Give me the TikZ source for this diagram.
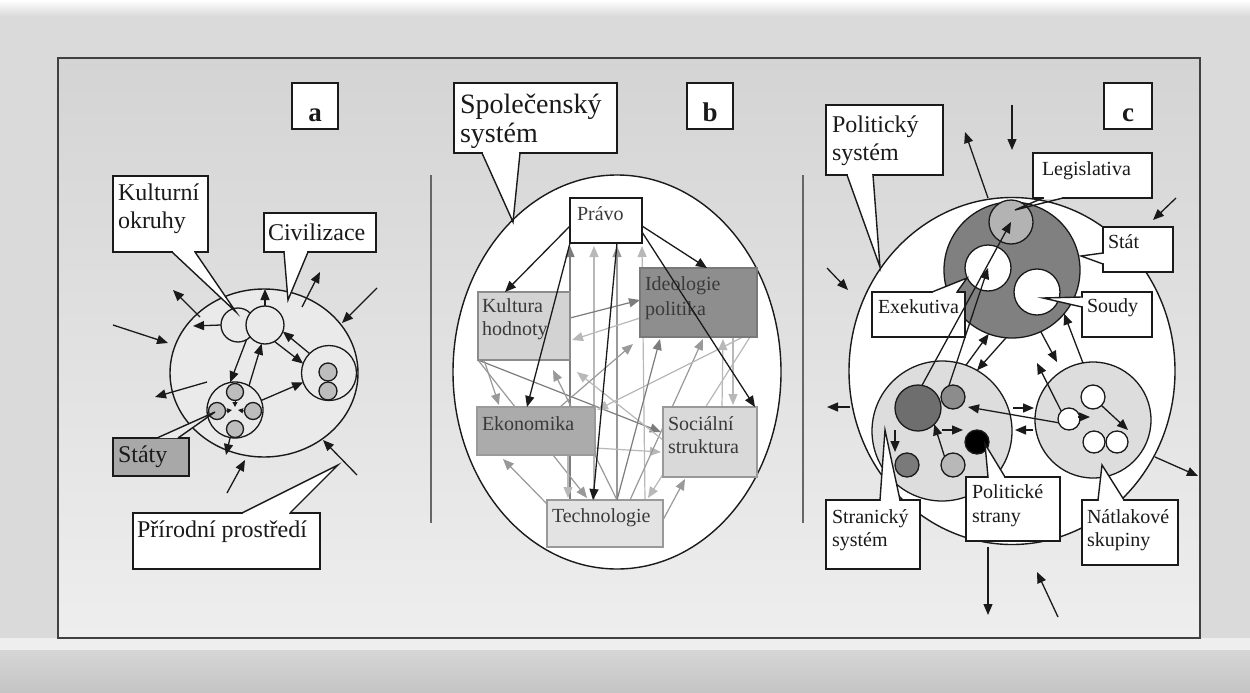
\documentclass[tikz,border=0pt]{standalone}
\usepackage{fontspec}
\setmainfont{Liberation Serif}
\usetikzlibrary{arrows.meta,shapes.geometric,calc}
\definecolor{bgc}{HTML}{DADADA}
\definecolor{frT}{HTML}{D4D4D4}
\definecolor{frB}{HTML}{EEEEEE}
\definecolor{botA}{HTML}{D6D6D6}
\definecolor{botB}{HTML}{C4C4C4}
\definecolor{ink}{HTML}{1A1A1A}
\definecolor{ink2}{HTML}{3A3A3A}
\definecolor{ea}{HTML}{EAEAEA}
\definecolor{sg}{HTML}{BDBDBD}
\definecolor{stg}{HTML}{A8A8A8}
\definecolor{ideoc}{HTML}{8E8E8E}
\definecolor{kultc}{HTML}{D3D3D3}
\definecolor{ekonc}{HTML}{ABABAB}
\definecolor{socc}{HTML}{D9D9D9}
\definecolor{techc}{HTML}{E3E3E3}
\definecolor{statc}{HTML}{808080}
\definecolor{legc}{HTML}{B3B3B3}
\definecolor{strc}{HTML}{DDDDDD}
\definecolor{gA}{HTML}{7C7C7C}
\definecolor{gB}{HTML}{999999}
\definecolor{gC}{HTML}{B8B8B8}
\newcommand{\mkbox}[6][]{\node[box,#1,anchor=north west,minimum width={(#4-#2)*1pt},minimum height={(#5-#3)*1pt}] (#6) at (#2,#3) {};}
\newcommand{\pointer}[4][white]{%
  \fill[#1] (#2) -- (#3) -- (#4) -- cycle;
  \draw[#1,line width=2.4pt,shorten <=0.9pt,shorten >=0.9pt] (#2) -- (#4);
  \draw[ptr] (#2) -- (#3) -- (#4);}
\begin{document}
\begin{tikzpicture}[x=1pt,y=-1pt,
  every node/.style={inner sep=0pt,outer sep=0pt},
  box/.style={rectangle,draw=ink,line width=1.4pt,fill=white},
  circ/.style={circle,draw=ink,line width=1.3pt},
  ell/.style={ellipse,draw=ink,line width=1.4pt},
  arr/.style={draw=ink,line width=1.3pt,-{Triangle[length=11pt,width=9pt]}},
  sarr/.style={draw=ink,line width=1pt,-{Triangle[length=5pt,width=5pt]}},
  garr/.style={line width=1.2pt,-{Triangle[length=11pt,width=9pt]}},
  t24/.style={font=\fontsize{24}{28}\selectfont,text=ink,anchor=base west},
  t20/.style={font=\fontsize{20}{24}\selectfont,text=ink,anchor=base west},
  tg20/.style={font=\fontsize{20}{24}\selectfont,text=ink2,anchor=base west},
  t28/.style={font=\fontsize{28}{32}\selectfont,text=ink,anchor=base west},
  tb/.style={font=\fontsize{27}{30}\selectfont\bfseries,text=ink,anchor=base},
  divider/.style={line width=2.6pt,draw=black!60},
  ptr/.style={draw=ink,line width=1.4pt,line join=miter},
]
\useasboundingbox (0,0) rectangle (1250,693);
% background
\fill[bgc] (0,0) rectangle (1250,693);
\shade[top color=white,bottom color=bgc] (0,0) rectangle (1250,16);
\fill[frB] (0,638) rectangle (1250,650);
\shade[top color=botA,bottom color=botB] (0,650) rectangle (1250,693);
\shade[top color=frT,bottom color=frB] (58,58) rectangle (1200,638);
\draw[line width=1.4pt,black!75] (58,58) rectangle (1200,638);
\draw[divider] (431,175) -- (431,523);
\draw[divider] (803,175) -- (803,523);

%================ panel a
\node[ell,fill=ea,minimum width=188pt,minimum height=168pt] (civ) at (264,373) {};
\node[circ,fill=ea,minimum size=34pt] (k1) at (238,325) {};
\node[circ,fill=ea,minimum size=38pt] (k2) at (265,325) {};
\node[circ,fill=ea,minimum size=55pt] (grp) at (329,373) {};
\node[circ,fill=sg,minimum size=18pt] (g1) at (328,372) {};
\node[circ,fill=sg,minimum size=18pt] (g2) at (328,391) {};
\node[circ,fill=ea,minimum size=56pt] (sts) at (235,410) {};
\node[circ,fill=sg,minimum size=17pt] (s1) at (235,392) {};
\node[circ,fill=sg,minimum size=17pt] (s2) at (253,411) {};
\node[circ,fill=sg,minimum size=17pt] (s3) at (235,429) {};
\node[circ,fill=sg,minimum size=17pt] (s4) at (217,411) {};
\foreach \n/\x/\y in {a1e/193/326,a3s/200/317,a3e/173/290,a4s/113/325,a4e/168/343,
  a5s/302/307,a5e/320/272,a6s/377/288,a6e/342/323,a12s/207/382,a12e/155/397,
  a13s/227/493,a13e/245/460,a14s/357/475,a14e/323/440,a15e/226/455,sc/235/410}
  \coordinate (\n) at (\x,\y);
\draw[arr] (k1.west) -- (a1e);
\draw[arr] (k2.north) -- (k2.north |- civ.north);
\draw[arr] (a3s) -- (a3e);
\draw[arr] (a4s) -- (a4e);
\draw[arr] (a5s) -- (a5e);
\draw[arr] (a6s) -- (a6e);
\draw[arr] (grp.135) -- (k2.-20);
\draw[arr] (k2.-60) -- (grp.160);
\draw[arr] (k1.-60) -- (sts.100);
\draw[arr] (sts.60) -- (k2.-100);
\draw[arr] (sts.20) -- (grp.200);
\draw[arr] (a12s) -- (a12e);
\draw[arr] (a13s) -- (a13e);
\draw[arr] (a14s) -- (a14e);
\draw[arr] (sts.-100) -- (a15e);
\draw[sarr] (s1.south) -- ($(sc)+(0,-3)$);
\draw[sarr] (s2.west) -- ($(sc)+(3,0)$);
\draw[sarr] (s4.east) -- ($(sc)+(-3,0)$);
% callouts a
\mkbox{113}{176}{208}{252}{kob}
\node[t24] (kobt1) at (118,200) {Kulturní};
\node[t24] (kobt2) at (118,228) {okruhy};
\coordinate (kotip) at (236,312);
\pointer{$(kob.south west)+(59,0)$}{kotip}{$(kob.south west)+(82,0)$}
\mkbox{264}{213}{376}{252}{civb}
\node[t24] (civt) at (268,240) {Civilizace};
\coordinate (civtip) at (288,300);
\pointer{$(civb.south west)+(20,0)$}{civtip}{$(civb.south west)+(44,0)$}
\mkbox[fill=stg]{113}{438}{189}{476}{stb}
\coordinate (sttip) at (215,412);
\fill[ea] ($(stb.north west)+(44,0)$) -- (sttip) -- ($(stb.north west)+(65,0)$) -- cycle;
\draw[ptr] ($(stb.north west)+(44,0)$) -- (sttip) -- ($(stb.north west)+(65,0)$);
\node[t24] (stt) at (118,462) {Státy};
\mkbox{133}{513}{320}{569}{prb}
\node[t24] (prt) at (137,537) {Přírodní prostředí};
\coordinate (prtip) at (338,465);
\pointer{$(prb.north west)+(109,0)$}{prtip}{$(prb.north west)+(157,0)$}
\mkbox{292}{83}{338}{129}{boxa}
\node[tb] (ta) at (315,121) {a};

%================ panel b
\node[ell,fill=white,minimum width=328pt,minimum height=394pt] (socell) at (617,372) {};
\mkbox{454}{83}{617}{153}{spb}
\node[t28] (spt1) at (460,113) {Společenský};
\node[t28] (spt2) at (460,142) {systém};
\coordinate (sptip) at (513,222);
\pointer{$(spb.south west)+(28,0)$}{sptip}{$(spb.south west)+(66,0)$}
\mkbox{687}{83}{733}{129}{boxb}
\node[tb] (tbb) at (710,121) {b};
% gray arrows
\draw[garr,gA] (570,500) -- (570,246);
\draw[garr,gC] (594,500) -- (594,246);
\draw[garr,gB] (617,500) -- (617,246);
\draw[garr,gC] (645,500) -- (642,246);
\draw[garr,gA] (570,318) -- (640,300);
\draw[garr,gC] (640,318) -- (572,340);
\draw[garr,gA] (478,360) -- (661,432);
\draw[garr,gB] (478,360) -- (587,498);
\draw[garr,gB] (484,360) -- (499,405);
\draw[garr,gC] (595,448) -- (661,452);
\draw[garr,gB] (548,505) -- (503,459);
\draw[garr,gB] (663,520) -- (685,479);
\draw[garr,gC] (750,337) -- (648,498);
\draw[garr,gC] (568,455) -- (568,498);
\draw[garr,gB] (630,500) -- (703,339);
\draw[garr,gC] (722,407) -- (723,339);
\draw[garr,gC] (733,337) -- (733,405);
\draw[garr,gB] (617,500) -- (553,370);
\draw[garr,gC] (663,440) -- (577,372);
\draw[garr,gC] (757,330) -- (597,410);
\draw[garr,gB] (560,407) -- (633,344);
% boxes b
\mkbox[draw=ink,line width=1.3pt]{570}{198}{642}{243}{prv}
\mkbox[fill=ideoc,draw=ideoc!85!black]{640}{268}{757}{337}{ide}
\mkbox[fill=kultc,draw=black!45]{478}{292}{570}{360}{kul}
\mkbox[fill=ekonc,draw=ekonc!90!black]{477}{407}{595}{455}{eko}
\mkbox[fill=socc,draw=black!40]{663}{407}{757}{477}{soc}
\mkbox[fill=techc,draw=black!40]{547}{500}{663}{547}{tec}
\node[tg20] (prvt) at (577,220) {Právo};
\node[tg20] (idet1) at (645,290) {Ideologie};
\node[tg20] (idet2) at (645,315) {politika};
\node[tg20] (kult1) at (482,312) {Kultura};
\node[tg20] (kult2) at (482,335) {hodnoty};
\node[tg20] (ekot) at (482,430) {Ekonomika};
\node[tg20] (soct1) at (668,430) {Sociální};
\node[tg20] (soct2) at (668,453) {struktura};
\node[tg20] (tect) at (552,522) {Technologie};
\draw[garr,gA] (617,500) -- (660,339);
% black arrows
\draw[arr] ($(prv.south west)+(0,-17)$) -- ($(kul.north west)+(27,0)$);
\draw[arr] ($(prv.south east)+(0,-17)$) -- ($(ide.north west)+(67,0)$);
\draw[arr] ($(prv.south east)+(0,-11)$) -- ($(soc.north east)+(-2,0)$);
\draw[arr] ($(prv.south west)+(47,0)$) -- ($(tec.north west)+(46,0)$);
\draw[arr] (prv.south west) -- ($(eko.north west)+(50,0)$);

%================ panel c
\node[ell,fill=white,minimum width=326pt,minimum height=347pt] (polell) at (1012,371) {};
\node[circ,fill=statc,minimum size=136pt] (stat) at (1012,270) {};
\node[circ,fill=legc,minimum size=44pt] (leg) at (1011,222) {};
\node[circ,fill=white,minimum size=46pt] (exe) at (988,268) {};
\node[circ,fill=white,minimum size=46pt] (sou) at (1037,292) {};
\node[circ,fill=strc,minimum size=140pt] (strs) at (942,431) {};
\node[circ,fill=strc,minimum size=116pt] (nat) at (1093,420) {};
\node[circ,fill=black!57,minimum size=46pt] (p1) at (918,408) {};
\node[circ,fill=black!45,minimum size=24pt] (p2) at (953,397) {};
\node[circ,fill=black!52,minimum size=24pt] (p3) at (907,465) {};
\node[circ,fill=black!28,minimum size=24pt] (p4) at (953,465) {};
\node[circ,fill=black,minimum size=24pt] (p5) at (977,442) {};
\node[circ,fill=white,minimum size=24pt] (n1) at (1093,397) {};
\node[circ,fill=white,minimum size=22pt] (n2) at (1069,419) {};
\node[circ,fill=white,minimum size=22pt] (n3) at (1094,442) {};
\node[circ,fill=white,minimum size=22pt] (n4) at (1117,442) {};
% callouts c
\mkbox{826}{105}{943}{175}{polb}
\node[t24] (polt1) at (832,132) {Politický};
\node[t24] (polt2) at (832,160) {systém};
\coordinate (poltip) at (880,267);
\pointer{$(polb.south west)+(21,0)$}{poltip}{$(polb.south west)+(47,0)$}
\mkbox{1033}{153}{1152}{198}{legb}
\node[t20] (legt) at (1042,175) {Legislativa};
\coordinate (legtip) at (1015,210);
\draw[white,line width=2.4pt,shorten <=0.9pt,shorten >=0.9pt] ($(legb.south west)+(10,0)$) -- ($(legb.south west)+(30,0)$);
\draw[ptr] ($(legb.south west)+(10,0)$) -- (legtip) -- ($(legb.south west)+(30,0)$);
\mkbox{1103}{227}{1173}{272}{statb}
\node[t20] (statt) at (1108,248) {Stát};
\coordinate (stattip) at (1081,256);
\pointer{$(statb.north west)+(0,26)$}{stattip}{$(statb.north west)+(0,37)$}
\mkbox{872}{292}{965}{337}{exeb}
\node[t20] (exet) at (878,313) {Exekutiva};
\coordinate (exetip) at (967,278);
\pointer{$(exeb.north west)+(60,0)$}{exetip}{$(exeb.north west)+(85,0)$}
\mkbox{1082}{292}{1152}{337}{soub}
\node[t20] (sout) at (1087,312) {Soudy};
\coordinate (soutip) at (1043,298);
\pointer{$(soub.north west)+(0,5)$}{soutip}{$(soub.north west)+(0,15)$}
\mkbox{826}{500}{920}{569}{strb}
\node[t20] (strt1) at (832,523) {Stranický};
\node[t20] (strt2) at (832,546) {systém};
\coordinate (strtip) at (885,430);
\pointer{$(strb.north west)+(54,0)$}{strtip}{$(strb.north west)+(74,0)$}
\mkbox{966}{477}{1060}{541}{pstb}
\node[t20] (pstt1) at (972,498) {Politické};
\node[t20] (pstt2) at (972,522) {strany};
\coordinate (psttip) at (985,444);
\pointer{$(pstb.north west)+(22,0)$}{psttip}{$(pstb.north west)+(39,0)$}
\mkbox{1082}{500}{1178}{565}{natb}
\node[t20] (natt1) at (1087,523) {Nátlakové};
\node[t20] (natt2) at (1087,546) {skupiny};
\coordinate (nattip) at (1102,465);
\pointer{$(natb.north west)+(16,0)$}{nattip}{$(natb.north west)+(42,0)$}
\mkbox{1104}{83}{1152}{129}{boxc}
\node[tb] (tcc) at (1128,121) {c};
% arrows c
\foreach \n/\x/\y in {c1s/1012/105,c1e/1012/150,c2s/988/198,c2e/965/132,c3s/1176/198,c3e/1153/220,
  c4s/827/268,c4e/848/290,c5s/850/407,c5e/827/407,c6s/1155/457,c6e/1198/476,
  c7s/988/547,c7e/988/615,c8s/1058/617,c8e/1037/572,c13e/1057/362,c15e/1037/363,
  c16e/968/407,c17s/1013/408,c17e/1034/408,c18s/1033/430,c18e/1015/430,
  c19s/942/430,c19e/963/430,c21s/895/430,c21e/895/452,c22s/1078/417,c22e/1090/417,c23e/1128/430}
  \coordinate (\n) at (\x,\y);
\draw[arr] (c1s) -- (c1e);
\draw[arr] (c2s) -- (c2e);
\draw[arr] (c3s) -- (c3e);
\draw[arr] (c4s) -- (c4e);
\draw[arr] (c5s) -- (c5e);
\draw[arr] (c6s) -- (c6e);
\draw[arr] (c7s) -- (c7e);
\draw[arr] (c8s) -- (c8e);
\draw[arr] (p1.80) -- (leg.center);
\draw[arr] (p2.110) -- (exe.center);
\draw[arr] (strs.70) -- (stat.-110);
\draw[arr] (stat.-95) -- (strs.60);
\draw[arr] (stat.-65) -- (c13e);
\draw[arr] (nat.100) -- (stat.-40);
\draw[arr] (n2.135) -- (c15e);
\draw[arr] (n2.200) -- (c16e);
\draw[arr] (c17s) -- (c17e);
\draw[arr] (c18s) -- (c18e);
\draw[arr] (c19s) -- (c19e);
\draw[arr] (p4.135) -- (p1.-45);
\draw[arr] (c21s) -- (c21e);
\draw[arr] (c22s) -- (c22e);
\draw[arr] (n1.-45) -- (c23e);
\end{tikzpicture}
\end{document}
